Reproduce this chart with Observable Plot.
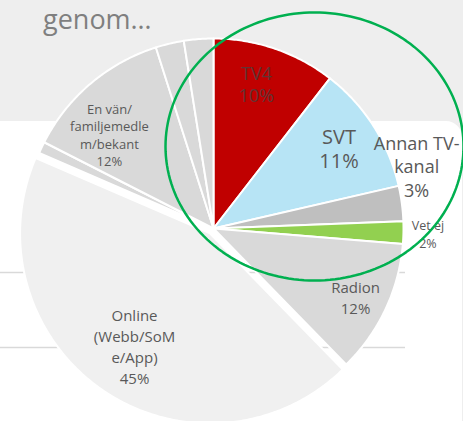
<!DOCTYPE html>
<html><head><meta charset="utf-8">
<script src="https://cdn.jsdelivr.net/npm/d3@7"></script>
<script src="https://cdn.jsdelivr.net/npm/@observablehq/plot@0.6"></script>
<style>
html,body{margin:0;padding:0;background:#eeeeee;overflow:hidden;}
#wrap{position:relative;width:463px;height:421px;overflow:hidden;background:#eeeeee;}
#panel{position:absolute;left:-20px;top:121px;width:482px;height:340px;background:#ffffff;border-top-right-radius:16px;}
#title{position:absolute;left:43px;top:0px;font-family:"Open Sans",sans-serif;font-size:27px;line-height:normal;color:#7f7f7f;white-space:nowrap;}
#chart{position:absolute;left:0;top:0;}
</style></head>
<body>
<div id="wrap"><div id="panel"></div><div id="title">genom…</div><div id="chart"></div></div>
<script>
// ---- data ----
const categories = ["TV4","SVT","Annan TV-kanal","Vet ej","Radion","Online (Webb/SoMe/App)","Övrigt A","En vän/familjemedlem/bekant","Övrigt B","Övrigt C"];
const shares = [10.5, 10.9, 3.0, 1.9, 11.4, 43.8, 1.0, 12.6, 2.4, 2.5];
const labelTexts = ["TV4\n10%","SVT\n11%","Annan TV-\nkanal\n3%","Vet ej\n2%","Radion\n12%","Online\n(Webb/SoM\ne/App)\n45%","","En vän/\nfamiljemedle\nm/bekant\n12%","",""];
const sliceColors = ["#c00000","#b7e4f5","#bfbfbf","#92d050","#d9d9d9","#f0f0f0","#d9d9d9","#d9d9d9","#d9d9d9","#d9d9d9"];
const gridY = [-0.2316, -0.6263];

// ---- layout (pie radius = 1 unit = 190px) ----
const PX = 190;
const xDomain = [-213/PX, 250/PX];
const yDomain = [-(421-228)/PX, 228/PX];
const explode = [0,0,0,0,0,6/PX,0,0,0,0];
const labelRadius = [0.796,0.784,1.119,1.129,0.829,0.714,0,0.738,0,0];
const labelNudge = [-2.4,0,-9.6,0,0.4,-0.7,0,-7.6,0,0]; // degrees
const labelSize = [18,20,18,12.5,15,15,13,13,13,13];
const labelLH = [1.22,1.22,1.3,1.4,1.4,1.4,1.3,1.35,1.3,1.3];
const labelFill = ["#603434","#595959","#595959","#595959","#595959","#595959","#595959","#595959","#595959","#595959"];
const ellipse = {cx: 0.5316, cy: 0.4316, rx: 0.7842, ry: 0.7053};

const arcs = d3.pie().sort(null).value(d => d)(shares);
const polys = [];
const labels = [];
arcs.forEach((a, i) => {
  const mid = (a.startAngle + a.endAngle) / 2;
  const ox = explode[i] * Math.sin(mid), oy = explode[i] * Math.cos(mid);
  polys.push({name: categories[i], color: sliceColors[i], x: ox, y: oy});
  const n = Math.max(2, Math.ceil((a.endAngle - a.startAngle) / 0.01));
  for (let k = 0; k <= n; k++) {
    const t = a.startAngle + (a.endAngle - a.startAngle) * k / n;
    polys.push({name: categories[i], color: sliceColors[i], x: ox + Math.sin(t), y: oy + Math.cos(t)});
  }
  if (labelTexts[i]) {
    const la = mid + labelNudge[i] * Math.PI / 180;
    labels.push({i, text: labelTexts[i], x: ox + labelRadius[i] * Math.sin(la), y: oy + labelRadius[i] * Math.cos(la)});
  }
});
const ell = d3.range(0, 361, 2).map(d => ({x: ellipse.cx + ellipse.rx * Math.cos(d*Math.PI/180), y: ellipse.cy + ellipse.ry * Math.sin(d*Math.PI/180)}));

const chart = Plot.plot({
  width: 463, height: 421, margin: 0,
  x: {domain: xDomain, axis: null},
  y: {domain: yDomain, axis: null},
  color: {type: "identity"},
  style: {background: "transparent", fontFamily: "Open Sans, sans-serif"},
  marks: [
    Plot.ruleY(gridY, {x1: xDomain[0], x2: 1.0105, stroke: "#d9d9d9", strokeWidth: 1.6}),
    Plot.line(polys, {x: "x", y: "y", z: "name", fill: "color", stroke: "#ffffff", strokeWidth: 2, curve: "linear-closed", strokeLinejoin: "round"}),
    ...labels.map(l => Plot.text([l], {x: "x", y: "y", text: "text", fontSize: labelSize[l.i], lineHeight: labelLH[l.i], fill: labelFill[l.i]})),
    Plot.line(ell, {x: "x", y: "y", stroke: "#00b050", strokeWidth: 2.5, curve: "linear-closed"})
  ]
});
document.getElementById("chart").appendChild(chart);
</script>
</body></html>
